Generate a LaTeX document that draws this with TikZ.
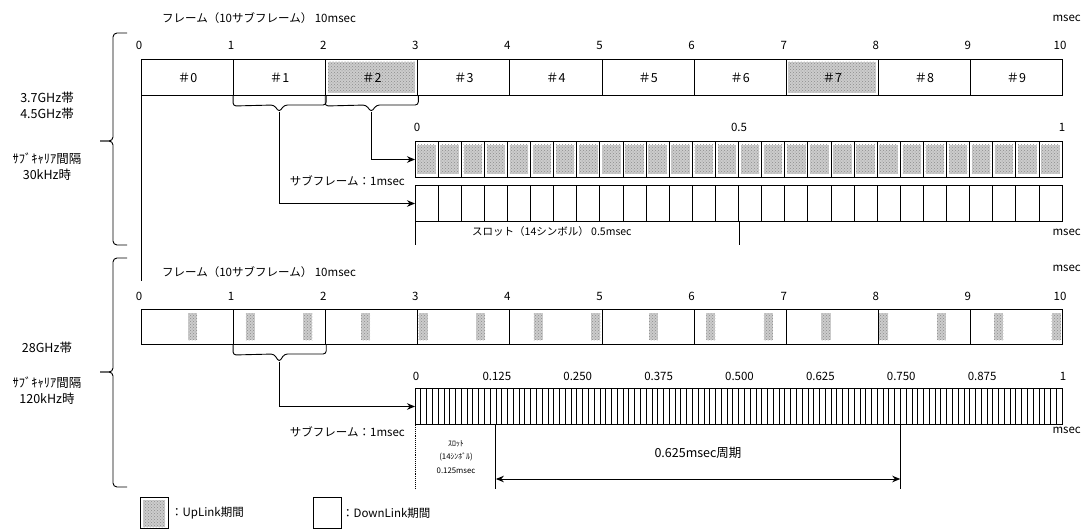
\documentclass[tikz,border=0pt]{standalone}
\usepackage{fontspec}
\setmainfont{Noto Sans CJK JP}
\usetikzlibrary{arrows.meta,patterns}
\begin{document}
\begin{tikzpicture}[x=1pt,y=-1pt,
  sf/.style={draw, line width=1pt, anchor=north west, inner sep=0pt,
    minimum width=92.1pt, minimum height=36pt, font=\fontsize{12.5}{12.5}\selectfont},
  bar/.style={draw, line width=1pt, anchor=north west, inner sep=0pt,
    minimum width=647pt, minimum height=36pt},
  txt/.style={inner sep=0pt, font=\fontsize{11.5}{13}\selectfont},
  tick/.style={inner sep=0pt, font=\fontsize{11.5}{11.5}\selectfont},
  small/.style={inner sep=0pt, align=center, font=\fontsize{7.8}{13.5}\selectfont},
  side/.style={inner sep=0pt, align=center, font=\fontsize{12.5}{16}\selectfont},
  up/.style={fill=black!20, postaction={pattern=crosshatch dots, pattern color=black!45}},
  ln/.style={line width=0.9pt},
  cell/.style={line width=0.8pt},
  zcell/.style={line width=0.6pt},
  arr/.style={line width=0.9pt, -{Stealth[length=8pt,width=6.5pt]}},
  darr/.style={line width=0.9pt, {Stealth[length=8pt,width=6.5pt]}-{Stealth[length=8pt,width=6.5pt]}},
]
\useasboundingbox (0,0) rectangle (1081,530);

% ================= section 1 (30 kHz) =================
\node[txt, anchor=west] (title1) at (162,18) {フレーム（10サブフレーム） 10msec};
\node[txt, anchor=east] (ms1) at (1081,18) {msec};
\foreach \i in {0,...,10} \node[tick] (ta\i) at ({141+92.1*\i-2},45) {\i};
\fill[up] (327.5,61.5) rectangle (415,92.5);
\fill[up] (788,61.5) rectangle (875.5,92.5);
\foreach \i in {0,...,9} \node[sf] (a\i) at ({141+92.1*\i},59) {＃\i};

% sub-braces under #1 and #2
\draw[ln, rounded corners=3pt] (a1.south west) -- ++(0,10) -- (274,105) -- (279.2,112) -- (284.4,105) -| (a1.south east);
\draw[ln, rounded corners=3pt] (a2.south west) -- ++(0,10) -- (366,105) -- (371.3,112) -- (376.5,105) -| (a2.south east);
\coordinate (tipA) at (279.2,112);
\coordinate (tipB) at (371.3,112);

% 28-symbol bars
\foreach \i in {0,...,27} \fill[up] ({415+647/28*\i+2.3},144.5) rectangle ({415+647/28*(\i+1)-2.3},173.5);
\node[bar] (ubar) at (415,141) {};
\foreach \i in {1,...,27} \draw[cell] ({415+647/28*\i},141) -- ++(0,36);
\node[bar] (lbar) at (415,185) {};
\foreach \i in {1,...,27} \draw[cell] ({415+647/28*\i},185) -- ++(0,36);
\node[tick] (u0) at (417,127) {0};
\node[tick] (u05) at (739,127) {0.5};
\node[tick] (u1) at (1062,127) {1};

\draw[arr] (tipB) |- (ubar.west);
\draw[arr] (tipA) |- (lbar.west);
\node[txt, anchor=east] (sub1) at (405,181) {サブフレーム：1msec};

\draw[ln] (lbar.south west) -- ++(0,23);
\draw[ln] (lbar.south) -- ++(0,23);
\node[txt, anchor=west, font=\fontsize{10.5}{12}\selectfont] (slot1) at (472,232) {スロット（14シンボル） 0.5msec};
\node[txt, anchor=east] (ms2) at (1081,232) {msec};

\coordinate (vend) at (141,281);
\draw[ln] (a0.south west) -- (vend);

% left brace 1 and labels
\draw[ln, rounded corners=4pt] (127,33) -| (113,141) -- (100,141);
\draw[ln, rounded corners=4pt] (100,141) -- (113,141) |- (127,245);
\node[side] (band1) at (47,106) {3.7GHz帯\\4.5GHz帯};
\node[side] (scs1) at (47,167) {ｻﾌﾞｷｬﾘｱ間隔\\30kHz時};

% ================= section 2 (120 kHz) =================
\node[txt, anchor=west] (title2) at (162,272) {フレーム（10サブフレーム） 10msec};
\node[txt, anchor=east] (ms3) at (1081,268) {msec};
\foreach \i in {0,...,10} \node[tick] (tb\i) at ({141+92.1*\i-2},296) {\i};
\foreach \k in {4,9,...,79} \fill[up] ({141+11.5125*\k+1.2},313) rectangle ({141+11.5125*(\k+1)-1.2},340);
\foreach \i in {0,...,9} \node[sf, minimum height=35pt] (b\i) at ({141+92.1*\i},309) {};

\draw[ln, rounded corners=3pt] (b1.south west) -- ++(0,10) -- (274,354) -- (279.2,362) -- (284.4,354) -| (b1.south east);
\coordinate (tipC) at (279.2,362);

\node[bar] (zbar) at (415,388) {};
\foreach \i in {1,...,111} \draw[zcell] ({415+647/112*\i},388) -- ++(0,36);
\foreach \t [count=\c from 0] in {0,0.125,0.250,0.375,0.500,0.625,0.750,0.875,1}
  \node[tick] (z\c) at ({415+80.875*\c+1},376) {\t};

\draw[arr] (tipC) |- (zbar.west);
\node[txt, anchor=east] (sub2) at (405,432) {サブフレーム：1msec};
\node[txt, anchor=east] (ms4) at (1081,430) {msec};

\draw[ln, densely dotted] (zbar.south west) -- ++(0,64);
\draw[ln] ([xshift=80.875pt]zbar.south west) -- ++(0,64);
\draw[ln] ([xshift=485.25pt]zbar.south west) -- ++(0,64);
\coordinate (p1) at ([xshift=80.875pt,yshift=-54pt]zbar.south west);
\coordinate (p2) at ([xshift=485.25pt,yshift=-54pt]zbar.south west);
\draw[darr] (p1) -- (p2);
\node[txt, font=\fontsize{12.5}{13}\selectfont] (per) at (698,453) {0.625msec周期};
\node[small] (slot2) at (456,457) {ｽﾛｯﾄ\\(14ｼﾝﾎﾞﾙ)\\0.125msec};

% left brace 2 and labels
\draw[ln, rounded corners=4pt] (127,258) -| (113,372) -- (100,372);
\draw[ln, rounded corners=4pt] (100,372) -- (113,372) |- (127,487);
\node[side] (band2) at (47,348) {28GHz帯};
\node[side] (scs2) at (47,391) {ｻﾌﾞｷｬﾘｱ間隔\\120kHz時};

% ================= legend =================
\fill[up] (143,500) rectangle (165,527);
\node[draw, ln, anchor=north west, inner sep=0pt, minimum width=28pt, minimum height=31pt] (kup) at (140,497) {};
\node[txt, anchor=west] (kupt) at ([xshift=2pt]kup.east) {：UpLink期間};
\node[draw, ln, anchor=north west, inner sep=0pt, minimum width=28pt, minimum height=31pt] (kdn) at (313,497) {};
\node[txt, anchor=west] (kdnt) at ([xshift=0pt]kdn.east) {：DownLink期間};
\end{tikzpicture}
\end{document}
